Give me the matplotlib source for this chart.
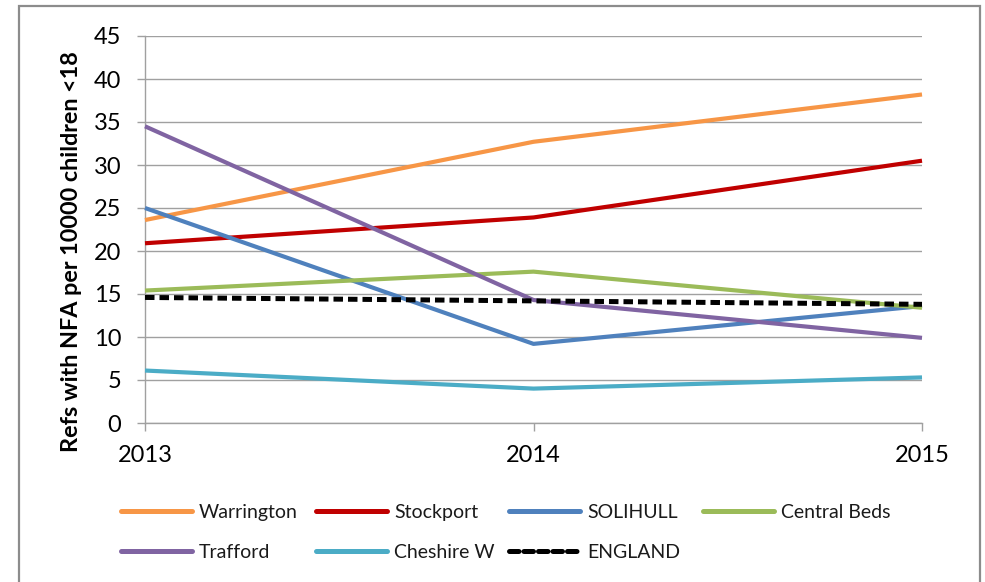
import matplotlib
matplotlib.use("Agg")
import matplotlib.pyplot as plt
from matplotlib.lines import Line2D
from matplotlib.patches import Rectangle

# Referrals with NFA per 10000 children under 18, by local authority
years = [2013, 2014, 2015]
year_labels = ["2013", "2014", "2015"]
series_names = ["Warrington", "Stockport", "SOLIHULL", "Central Beds",
                "Trafford", "Cheshire W", "ENGLAND"]
warrington = [23.6, 32.7, 38.2]
stockport = [20.9, 23.9, 30.5]
solihull = [25.0, 9.2, 13.6]
central_beds = [15.4, 17.6, 13.4]
trafford = [34.5, 14.3, 9.9]
cheshire_w = [6.1, 4.0, 5.3]
england = [14.6, 14.2, 13.8]
y_ticks = [0, 5, 10, 15, 20, 25, 30, 35, 40, 45]

values = [warrington, stockport, solihull, central_beds, trafford, cheshire_w, england]
colors = ["#F79646", "#C00000", "#4F81BD", "#9BBB59", "#8064A2", "#4BACC6", "#000000"]

plt.rcParams["font.family"] = ["Lato", "DejaVu Sans"]

W, H = 985, 582
fig = plt.figure(figsize=(W / 100, H / 100), dpi=100)


def fx(px):
    return px / W


def fy(py):
    return 1 - py / H


# chart frame
fig.add_artist(Rectangle((fx(19), fy(640)), fx(980) - fx(19), fy(6) - fy(640),
                         transform=fig.transFigure, fill=False,
                         edgecolor="#8c8c8c", linewidth=1.6, zorder=0))

ax = fig.add_axes([fx(145), fy(423), fx(922) - fx(145), fy(36) - fy(423)])
ax.set_xlim(2013, 2015)
ax.set_ylim(0, 45)

grid_col = "#a0a0a0"
ax.set_yticks(y_ticks)
ax.set_xticks(years)
ax.set_xticklabels(year_labels)
ax.yaxis.grid(True, color=grid_col, linewidth=1.0)
ax.set_axisbelow(True)
for s in ("top", "right"):
    ax.spines[s].set_visible(False)
for s in ("left", "bottom"):
    ax.spines[s].set_color(grid_col)
    ax.spines[s].set_linewidth(1.0)
ax.tick_params(axis="both", color=grid_col, length=6, width=1.0,
               labelsize=17, labelcolor="#000000")
ax.tick_params(axis="y", pad=11)
ax.tick_params(axis="x", pad=10)

for name, vals, col in zip(series_names, values, colors):
    if name == "ENGLAND":
        ax.plot(years, vals, color=col, linewidth=3.6,
                linestyle=(0, (1.9, 1.0)), dash_capstyle="butt",
                clip_on=False, zorder=5)
    else:
        ax.plot(years, vals, color=col, linewidth=3.0,
                solid_capstyle="butt", clip_on=False, zorder=3)

fig.text(fx(72), fy(252), "Refs with NFA per 10000 children <18",
         rotation=90, ha="center", va="center", fontsize=16.8,
         fontweight="bold")

# legend laid out in two rows
col_x = [121, 316, 509, 703]
row_y = [511, 551]
for i, (name, col) in enumerate(zip(series_names, colors)):
    r, c = divmod(i, 4)
    x0 = col_x[c]
    y0 = row_y[r]
    if name == "ENGLAND":
        lh = Line2D([fx(x0), fx(x0 + 71)], [fy(y0), fy(y0)],
                    transform=fig.transFigure, color=col, linewidth=3.6,
                    linestyle=(0, (1.9, 1.0)), dash_capstyle="round")
    else:
        lh = Line2D([fx(x0), fx(x0 + 71)], [fy(y0), fy(y0)],
                    transform=fig.transFigure, color=col, linewidth=3.6,
                    solid_capstyle="round")
    fig.add_artist(lh)
    fig.text(fx(x0 + 78), fy(y0), name, ha="left", va="center_baseline",
             fontsize=14, color="#1a1a1a")

fig.savefig("out.png", dpi=100)
